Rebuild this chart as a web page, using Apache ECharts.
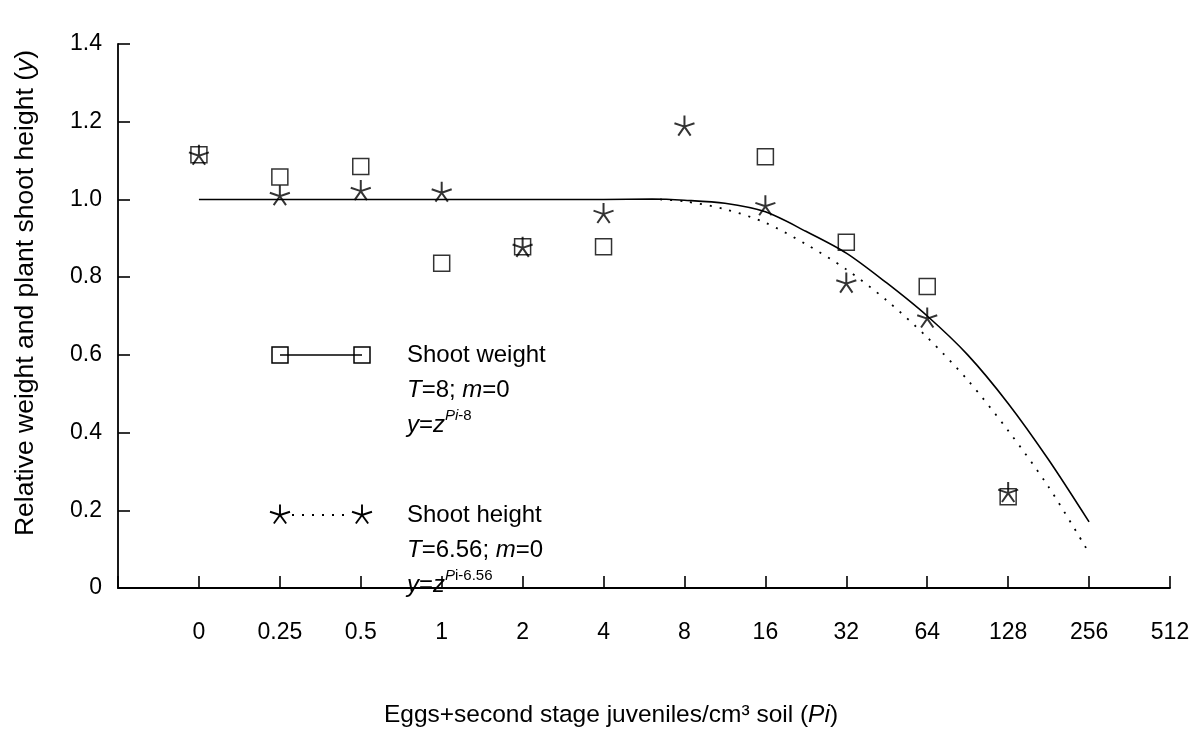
<!DOCTYPE html>
<html>
<head>
<meta charset="utf-8">
<script src="https://cdn.jsdelivr.net/npm/echarts@6/dist/echarts.min.js"></script>
<style>
html, body { margin: 0; padding: 0; background: #fff; }
#main { width: 1195px; height: 748px; }
</style>
</head>
<body>
<div id="main"></div>
<script>
// x positions are slots on the axis, one slot per tick label (doubling scale, 0 first)
var tickLabels = ['0', '0.25', '0.5', '1', '2', '4', '8', '16', '32', '64', '128', '256', '512'];

// shoot weight (squares)
var weightX = [0, 1, 2, 3, 4, 5, 7, 8, 9, 10];
var weightY = [1.115, 1.058, 1.085, 0.836, 0.878, 0.878, 1.11, 0.89, 0.776, 0.235];

// shoot height (stars)
var heightX = [0, 1, 2, 3, 4, 5, 6, 7, 8, 9, 10];
var heightY = [1.115, 1.011, 1.024, 1.02, 0.878, 0.965, 1.19, 0.985, 0.786, 0.696, 0.247];

// fitted curves
var weightCurveX = [0, 5, 5.6, 6, 6.5, 7, 7.5, 8, 8.5, 9, 9.5, 10, 10.5, 11];
var weightCurveY = [1.0, 1.0, 1.001, 0.998, 0.99, 0.968, 0.918, 0.862, 0.785, 0.70, 0.60, 0.475, 0.33, 0.17];
var heightCurveX = [5.7, 6, 6.5, 7, 7.5, 8, 8.5, 9, 9.5, 10, 10.5, 11];
var heightCurveY = [1.0, 0.995, 0.975, 0.94, 0.885, 0.82, 0.74, 0.645, 0.535, 0.405, 0.26, 0.09];

function pairs(xs, ys) {
    var out = [];
    for (var i = 0; i < xs.length; i++) { out.push([xs[i], ys[i]]); }
    return out;
}

var FONT = '"Liberation Sans", Arial, sans-serif';
var STAR = 'path://M0,0L0,-10M0,0L9.51,-3.09M0,0L-9.51,-3.09M0,0L5.88,8.09M0,0L-5.88,8.09';

// five-armed asterisk for the hand-made legend
function legendStar(cx, cy, r) {
    var arms = [], k, a;
    for (k = 0; k < 5; k++) {
        a = -Math.PI / 2 + k * 2 * Math.PI / 5;
        arms.push({ type: 'line', shape: { x1: 0, y1: 0, x2: r * Math.cos(a), y2: r * Math.sin(a) },
                    style: { stroke: '#000', lineWidth: 1.9 } });
    }
    return { type: 'group', x: cx, y: cy, children: arms };
}

var richLegend = {
    i: { fontFamily: FONT, fontSize: 24, fontStyle: 'italic', lineHeight: 35 },
    si: { fontFamily: FONT, fontSize: 15, fontStyle: 'italic', verticalAlign: 'top', lineHeight: 35, padding: [0, 0, 11, 0] },
    s: { fontFamily: FONT, fontSize: 15, verticalAlign: 'top', lineHeight: 35, padding: [0, 0, 11, 0] }
};

var myChart = echarts.init(document.getElementById('main'));

var option = {
    animation: false,
    backgroundColor: '#fff',
    textStyle: { fontFamily: FONT, color: '#000' },
    grid: { left: 118, right: 25, top: 44, bottom: 160 },
    xAxis: {
        type: 'value', min: -1, max: 12, interval: 1,
        name: 'Eggs+second stage juveniles/cm³ soil ({i|Pi})',
        nameLocation: 'middle', nameGap: 115,
        nameTextStyle: { fontFamily: FONT, fontSize: 24.5, color: '#000', padding: [0, 66, 0, 0],
            rich: { i: { fontFamily: FONT, fontSize: 24.5, fontStyle: 'italic', color: '#000' } } },
        axisLine: { lineStyle: { color: '#000', width: 1.8 } },
        axisTick: { inside: true, length: 12, lineStyle: { color: '#000', width: 1.6 } },
        axisLabel: {
            margin: 33, fontFamily: FONT, fontSize: 23, color: '#000',
            formatter: function (v) { return v >= 0 ? tickLabels[v] : ''; }
        },
        splitLine: { show: false }
    },
    yAxis: {
        type: 'value', min: 0, max: 1.4, interval: 0.2,
        name: 'Relative weight and plant shoot height ({i|y})',
        nameLocation: 'middle', nameGap: 79,
        nameTextStyle: { fontFamily: FONT, fontSize: 26.5, color: '#000', padding: [0, 0, 0, 46],
            rich: { i: { fontFamily: FONT, fontSize: 26.5, fontStyle: 'italic', color: '#000' } } },
        axisLine: { show: true, onZero: false, lineStyle: { color: '#000', width: 1.8 } },
        axisTick: { show: true, inside: true, length: 12, lineStyle: { color: '#000', width: 1.6 } },
        axisLabel: {
            margin: 16, fontFamily: FONT, fontSize: 23, color: '#000',
            formatter: function (v) { return v === 0 ? '0' : v.toFixed(1); }
        },
        splitLine: { show: false }
    },
    series: [
        {
            name: 'Shoot weight fit', type: 'line', data: pairs(weightCurveX, weightCurveY),
            showSymbol: false, smooth: 0.3, silent: true,
            lineStyle: { color: '#000', width: 1.6 }
        },
        {
            name: 'Shoot height fit', type: 'line', data: pairs(heightCurveX, heightCurveY),
            showSymbol: false, smooth: 0.3, silent: true,
            lineStyle: { color: '#000', width: 1.8, type: [2, 8] }
        },
        {
            name: 'Shoot weight', type: 'scatter', data: pairs(weightX, weightY),
            symbol: 'rect', symbolSize: 16,
            itemStyle: { color: 'rgba(0,0,0,0)', borderColor: '#000', borderWidth: 1.5 }
        },
        {
            name: 'Shoot height', type: 'scatter', data: pairs(heightX, heightY),
            symbol: STAR, symbolSize: 20,
            itemStyle: { color: 'rgba(0,0,0,0)', borderColor: '#000', borderWidth: 2 }
        }
    ],
    graphic: [
        // legend: shoot weight
        { type: 'line', shape: { x1: 280, y1: 355, x2: 362, y2: 355 }, style: { stroke: '#000', lineWidth: 1.5 } },
        { type: 'rect', shape: { x: 272, y: 347, width: 16, height: 16 }, style: { fill: 'none', stroke: '#000', lineWidth: 1.5 } },
        { type: 'rect', shape: { x: 354, y: 347, width: 16, height: 16 }, style: { fill: 'none', stroke: '#000', lineWidth: 1.5 } },
        {
            type: 'text', x: 407, y: 338,
            style: {
                text: 'Shoot weight\n{i|T}=8; {i|m}=0\n{i|y}={i|z}{si|Pi}{s|-8}',
                font: '24px ' + FONT, fill: '#000', lineHeight: 35, rich: richLegend
            }
        },
        // legend: shoot height
        { type: 'line', shape: { x1: 292, y1: 515, x2: 350, y2: 515 }, style: { stroke: '#000', lineWidth: 1.8, lineDash: [2, 8] } },
        legendStar(280, 515, 10.5),
        legendStar(362, 515, 10.5),
        {
            type: 'text', x: 407, y: 498,
            style: {
                text: 'Shoot height\n{i|T}=6.56; {i|m}=0\n{i|y}={i|z}{si|P}{s|i-6.56}',
                font: '24px ' + FONT, fill: '#000', lineHeight: 35, rich: richLegend
            }
        }
    ]
};

myChart.setOption(option);
window.addEventListener('resize', function () { myChart.resize(); });
</script>
</body>
</html>
